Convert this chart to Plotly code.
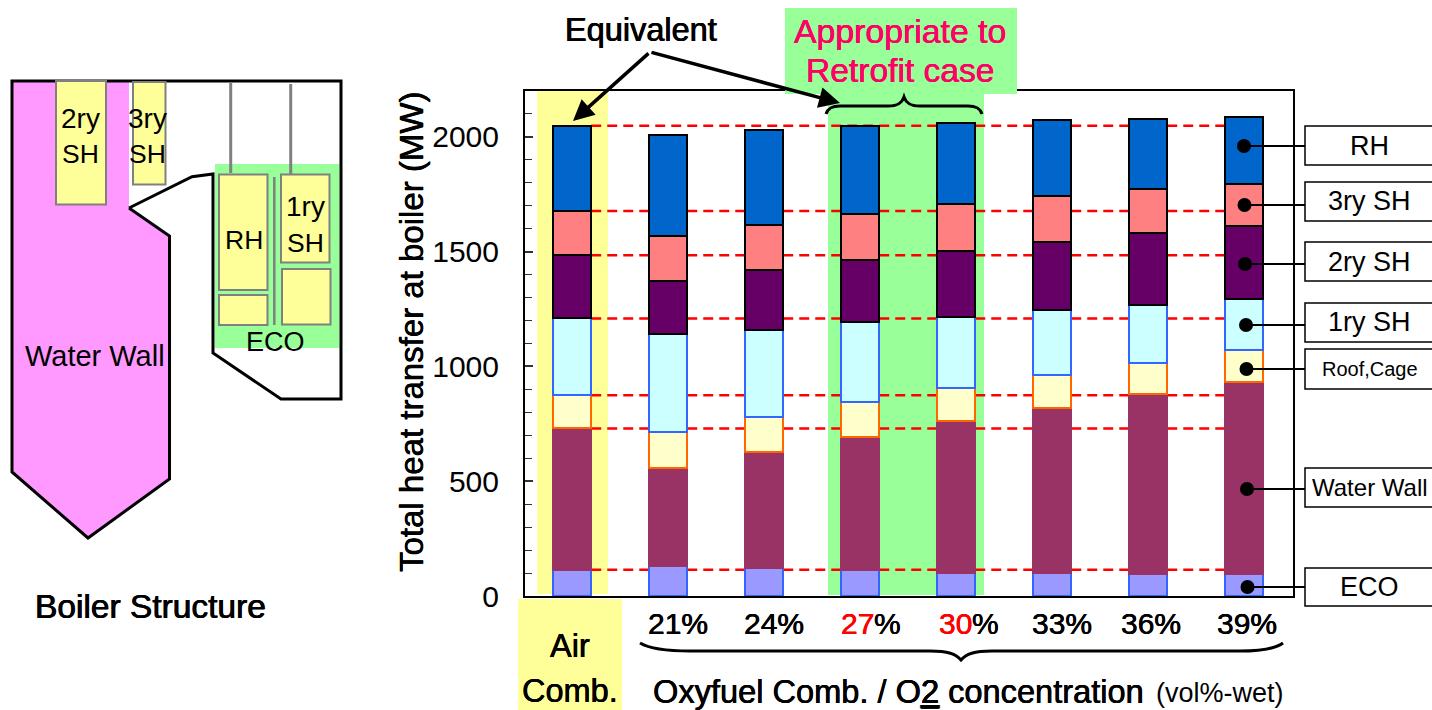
import plotly.graph_objects as go

W, H = 1432, 710
FONT = "Liberation Sans"

categories = ["Air Comb.", "21%", "24%", "27%", "30%", "33%", "36%", "39%"]
eco = [114, 132, 120, 114, 101, 101, 95, 95]
water_wall = [616, 425, 507, 580, 660, 717, 784, 837]
roof_cage = [145, 156, 151, 151, 143, 145, 137, 139]
sh1 = [334, 428, 383, 347, 311, 282, 251, 222]
sh2 = [276, 230, 260, 271, 288, 297, 313, 318]
sh3 = [192, 198, 195, 203, 205, 202, 192, 186]
rh = [372, 438, 416, 383, 353, 330, 306, 288]
y_ticks = [0, 500, 1000, 1500, 2000]
series_names = ["ECO", "Water Wall", "Roof,Cage", "1ry SH", "2ry SH", "3ry SH", "RH"]
series_values = [eco, water_wall, roof_cage, sh1, sh2, sh3, rh]
fills = ["#9999FF", "#993366", "#FFFFCC", "#CCFFFF", "#660066", "#FF8080", "#0066CC"]
edges = ["#3366FF", "#993366", "#FF6600", "#3366FF", "#000000", "#000000", "#000000"]


def px(x):
    return x / W


def py(y):
    return 1 - y / H


shapes = []
annotations = []


def rect(x0, y0, x1, y1, fill=None, line=None, lw=0, layer="above"):
    shapes.append(dict(type="rect", xref="paper", yref="paper", x0=px(x0), x1=px(x1), y0=py(y0), y1=py(y1),
                       fillcolor=fill or "rgba(0,0,0,0)",
                       line=dict(color=line or "rgba(0,0,0,0)", width=lw), layer=layer))


def seg(x0, y0, x1, y1, color="#000000", lw=2, layer="above"):
    shapes.append(dict(type="line", xref="paper", yref="paper", x0=px(x0), x1=px(x1), y0=py(y0), y1=py(y1),
                       line=dict(color=color, width=lw), layer=layer))


def path(d, fill=None, line=None, lw=0, layer="above"):
    out = []
    for item in d:
        out.append(item[0] + " ".join(f"{px(a):.5f},{py(b):.5f}" for a, b in item[1:]))
    shapes.append(dict(type="path", xref="paper", yref="paper", path=" ".join(out),
                       fillcolor=fill or "rgba(0,0,0,0)",
                       line=dict(color=line or "rgba(0,0,0,0)", width=lw), layer=layer))


def text(x, y, s, size, color="#000000", anchor="center", angle=0, heavy=0.0):
    font = dict(family=FONT, size=size, color=color)
    if heavy:
        font["shadow"] = f"{heavy}px 0 0 {color}, -{heavy}px 0 0 {color}"
    annotations.append(dict(xref="paper", yref="paper", x=px(x), y=py(y), text=s, showarrow=False,
                            xanchor=anchor, yanchor="middle", textangle=angle, font=font))


def poly(points):
    return [("M", points[0])] + [("L", p) for p in points[1:]]


# ---- boiler schematic ----
PINK, GREEN, YEL, GREY = "#FF99FF", "#99FF99", "#FFFF99", "#808080"
path(poly([(12, 81), (129, 81), (129, 208), (169.5, 236), (169.5, 479), (88, 538), (12, 472)]) + [("Z",)], fill=PINK)
rect(215, 164, 339.5, 348, fill=GREEN)
path(poly([(129, 208), (192, 176.7), (213, 174), (213, 353), (281, 399), (341, 399), (341, 81), (12, 81),
           (12, 472), (88, 538), (169.5, 479), (169.5, 236), (129, 208)]), line="#000000", lw=3)
for x0, y0, x1, y1 in [(56, 81, 106, 204.5), (133, 82, 165.5, 184.5), (219, 174.5, 267.5, 290),
                       (219, 295, 267.5, 325), (281, 174.5, 329.5, 262.5), (282, 269, 330.5, 324.5)]:
    rect(x0, y0, x1, y1, fill=YEL, line=GREY, lw=2)
seg(230.7, 82, 230.7, 173, GREY, 3)
seg(290.7, 84, 290.7, 174, GREY, 3)
seg(274.3, 177, 274.3, 325, GREY, 2.5)
text(80, 118, "2ry", 28)
text(80, 154, "SH", 26.5)
text(147, 118, "3ry", 28)
text(147, 154, "SH", 26.5)
text(243.5, 240, "RH", 26.5)
text(305, 206, "1ry", 28)
text(305, 243, "SH", 26.5)
text(275, 342, "ECO", 27)
text(95, 356, "Water Wall", 29)
text(150, 606, "Boiler Structure", 33.5, heavy=0.4)

# ---- chart background zones ----
rect(537, 91, 608, 594, fill=YEL, layer="below")
rect(828, 94, 984, 595, fill=GREEN, layer="below")
rect(785, 8, 1017, 94, fill=GREEN)
rect(518, 599, 622, 710, fill=YEL)

# ---- reference lines from the cumulative heights of the first bar ----
cum = 0
for values in series_values:
    cum += values[0]
    shapes.append(dict(type="line", xref="x", yref="y", x0=0.2, x1=6.8, y0=cum, y1=cum, layer="below",
                       line=dict(color="#FF0000", width=2.5, dash="10px,6px")))

# ---- header ----
text(641, 30, "Equivalent", 32.5, heavy=0.4)
text(900, 31, "Appropriate to", 33.8, "#FF0066", heavy=0.3)
text(900, 71, "Retrofit case", 33.6, "#FF0066", heavy=0.3)
for tx, ty in [(573, 121), (840, 103)]:
    annotations.append(dict(xref="paper", yref="paper", x=px(tx), y=py(ty), ax=650 - tx, ay=52 - ty,
                            axref="pixel", ayref="pixel", text="", showarrow=True, arrowhead=2, arrowsize=1.2,
                            arrowwidth=3.5, arrowcolor="#000000"))
path([("M", (826, 114)), ("C", (828, 108), (832, 106), (840, 106)), ("L", (888, 106)),
      ("C", (898, 106), (902, 103), (904, 97)), ("C", (906, 103), (910, 106), (920, 106)), ("L", (968, 106)),
      ("C", (976, 106), (980, 108), (982, 114))], line="#000000", lw=3)

# ---- axis title ----
text(411, 332, "Total heat transfer at boiler (MW)", 33, angle=-90, heavy=0.3)

# ---- bottom labels ----
text(570, 646, "Air", 32.5, heavy=0.3)
text(570, 691, "Comb.", 32.5, heavy=0.3)
label_x = [678, 774, 871, 969, 1062, 1151, 1247]
for lx, cat in zip(label_x, categories[1:]):
    if cat in ("27%", "30%"):
        text(lx + 5.4, 623, cat[:-1], 30, "#FF0000", anchor="right", heavy=0.3)
        text(lx + 1.4, 623, "%", 30, anchor="left", heavy=0.3)
    else:
        text(lx, 623, cat, 30, heavy=0.3)
path([("M", (640, 643)), ("C", (650, 649), (665, 651), (690, 651)), ("L", (930, 651)),
      ("C", (948, 651), (956, 654), (961, 660)), ("C", (966, 654), (974, 651), (992, 651)), ("L", (1240, 651)),
      ("C", (1262, 651), (1275, 649), (1283, 643))], line="#000000", lw=3)
text(651, 691, 'Oxyfuel Comb. / O<span style="text-decoration:underline">2</span> concentration',
     32.6, anchor="left", heavy=0.3)
text(1154, 693, "(vol%-wet)", 27, anchor="left")

# ---- callouts ----
callouts = ["RH", "3ry SH", "2ry SH", "1ry SH", "Roof,Cage", "Water Wall", "ECO"]
box_tops = [126, 182, 242, 303, 349, 468, 568]
box_bots = [165, 221, 281, 342, 389, 507, 606]
dots = [(1244, 146), (1244.5, 205), (1245, 264), (1246, 325), (1246.5, 369), (1247, 489), (1247.5, 587)]
sizes = [27, 27, 27, 27, 20, 24, 27]
for name, t, b, (dx, dy), s in zip(callouts, box_tops, box_bots, dots, sizes):
    seg(dx, dy, 1305, dy, "#000000", 2)
    shapes.append(dict(type="circle", xref="paper", yref="paper", x0=px(dx - 7), x1=px(dx + 7),
                       y0=py(dy + 7), y1=py(dy - 7), fillcolor="#000000", line=dict(width=0), layer="above"))
    rect(1305, t, 1440, b, fill="#FFFFFF", line="#000000", lw=1.5)
    text(1369.5, (t + b) / 2, name, s)

fig = go.Figure()
for name, values, fill, edge in zip(series_names, series_values, fills, edges):
    fig.add_bar(x=list(range(len(categories))), y=values, name=name, width=0.39,
                marker=dict(color=fill, line=dict(color=edge, width=2)))

fig.update_layout(
    width=W, height=H, margin=dict(l=0, r=0, t=0, b=0, autoexpand=False), barmode="stack", showlegend=False,
    paper_bgcolor="#FFFFFF", plot_bgcolor="rgba(0,0,0,0)", shapes=shapes, annotations=annotations,
    xaxis=dict(domain=[px(525), px(1293)], range=[-0.49, 7.51], showticklabels=False, ticks="", showgrid=False,
               zeroline=False, showline=True, mirror=True, linecolor="#000000", linewidth=2),
    yaxis=dict(domain=[py(596), py(91)], range=[0, 2200], tickvals=y_ticks, ticks="inside", ticklen=8, tickwidth=1.5,
               tickcolor="#333333", minor=dict(dtick=100, ticks="inside", ticklen=7, tickwidth=1, tickcolor="#333333", showgrid=False),
               showgrid=False, zeroline=False, showline=True, mirror=True, linecolor="#000000", linewidth=2,
               ticklabelstandoff=18, tickfont=dict(family=FONT, size=30, color="#000000")),
)
fig.write_html("out.html", config=dict(displayModeBar=False),
               post_script="document.body.style.margin='0';document.body.style.overflow='hidden';")
